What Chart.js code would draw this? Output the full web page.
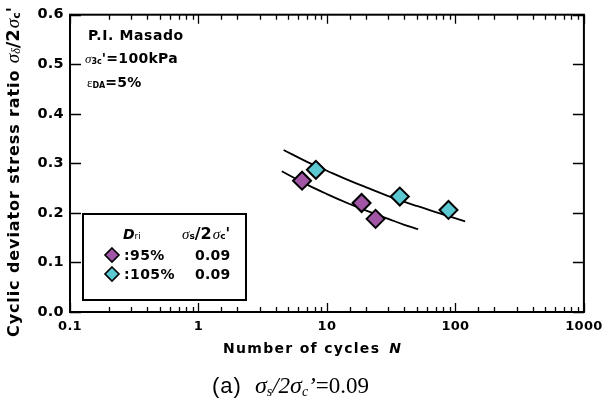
<!DOCTYPE html>
<html>
<head>
<meta charset="utf-8">
<script src="https://cdn.jsdelivr.net/npm/chart.js@4.4.1/dist/chart.umd.min.js"></script>
<style>
  html, body { margin: 0; padding: 0; background: #fff; }
</style>
</head>
<body>
<canvas id="chart" width="609" height="410"></canvas>
<script>
// measured points, Dri = 95%
const cycles95 = [6.4, 18.6, 23.9];
const ratio95 = [0.265, 0.220, 0.188];
// measured points, Dri = 105%
const cycles105 = [8.2, 36.9, 88.3];
const ratio105 = [0.287, 0.233, 0.206];

// fitted curves
const curveN95 = [4.45, 7, 10, 15, 20, 30, 40, 51.3];
const curveR95 = [0.284, 0.257, 0.238, 0.218, 0.205, 0.188, 0.176, 0.167];
const curveN105 = [4.6, 7, 10, 15, 20, 30, 50, 80, 119];
const curveR105 = [0.327, 0.303, 0.285, 0.265, 0.252, 0.234, 0.214, 0.197, 0.183];

const yTicks = [0, 0.1, 0.2, 0.3, 0.4, 0.5, 0.6];
const xDecades = [0.1, 1, 10, 100, 1000];

const PURPLE = '#a055a5';
const CYAN = '#5cc8d2';
const SANS = '"DejaVu Sans", Verdana, sans-serif';
const ARIAL = '"Liberation Sans", Arial, sans-serif';
const SERIF = '"Liberation Serif", "Times New Roman", serif';

function pts(xs, ys) {
  return xs.map((x, i) => ({ x: x, y: ys[i] }));
}

// draw a row of text pieces with different fonts
function runs(ctx, list, x, y) {
  let cx = x;
  list.forEach(r => {
    ctx.font = r.font;
    ctx.letterSpacing = (r.ls || 0) + 'px';
    ctx.fillText(r.t, cx, y + (r.dy || 0));
    cx += ctx.measureText(r.t).width + (r.gap || 0);
  });
  ctx.letterSpacing = '0px';
  return cx;
}

function isDecade(v) {
  const l = Math.log10(v);
  return Math.abs(l - Math.round(l)) < 1e-6;
}

const decorPlugin = {
  id: 'decor',
  beforeDraw(chart) {
    chart.ctx.letterSpacing = '0.3px';
  },
  afterDatasetsDraw(chart) {
    const ctx = chart.ctx;
    const a = chart.chartArea;
    const xs = chart.scales.x, ys = chart.scales.y;
    ctx.save();
    ctx.strokeStyle = '#000';
    ctx.lineWidth = 2;
    ctx.strokeRect(a.left, a.top, a.right - a.left, a.bottom - a.top);

    // inward ticks
    ctx.lineWidth = 1.3;
    ctx.beginPath();
    xs.ticks.forEach(t => {
      const px = Math.round(xs.getPixelForValue(t.value)) + 0.5;
      const len = isDecade(t.value) ? 9 : 5;
      ctx.moveTo(px, a.bottom); ctx.lineTo(px, a.bottom - len);
      ctx.moveTo(px, a.top); ctx.lineTo(px, a.top + len);
    });
    ys.ticks.forEach(t => {
      const py = Math.round(ys.getPixelForValue(t.value)) + 0.5;
      ctx.moveTo(a.left, py); ctx.lineTo(a.left + 11, py);
      ctx.moveTo(a.right, py); ctx.lineTo(a.right - 11, py);
    });
    ctx.stroke();

    ctx.fillStyle = '#000';
    ctx.textBaseline = 'alphabetic';
    ctx.textAlign = 'left';

    // condition text, top left
    runs(ctx, [{ t: 'P.I. Masado', font: 'bold 14px ' + SANS, ls: 0.6 }], 88, 40);
    runs(ctx, [
      { t: 'σ', font: 'italic 13px ' + SERIF },
      { t: '3c', font: 'bold 8px ' + SANS, dy: 1 },
      { t: '\'=100kPa', font: 'bold 14px ' + SANS, ls: 0.3 }
    ], 85, 63);
    runs(ctx, [
      { t: 'ε', font: '13px ' + SERIF },
      { t: 'DA', font: 'bold 8px ' + SANS, dy: 1 },
      { t: '=5%', font: 'bold 14px ' + SANS, ls: 0.3 }
    ], 87, 87);

    // legend box
    ctx.fillStyle = '#fff';
    ctx.fillRect(83, 214, 163, 86);
    ctx.lineWidth = 2;
    ctx.strokeRect(83, 214, 163, 86);
    ctx.fillStyle = '#000';
    runs(ctx, [
      { t: 'D', font: 'italic bold 14px ' + SANS },
      { t: 'ri', font: '9px ' + SANS }
    ], 123, 239);
    runs(ctx, [
      { t: 'σ', font: 'italic 15px ' + SERIF },
      { t: 's', font: 'bold 9px ' + SANS },
      { t: '/2', font: 'bold 16px ' + SANS, gap: 1 },
      { t: 'σ', font: 'italic 15px ' + SERIF },
      { t: 'c', font: 'bold 9px ' + SANS },
      { t: '\'', font: 'bold 15px ' + SANS }
    ], 182, 239);
    const rows = [
      { c: PURPLE, label: ':95%', val: '0.09', y: 255 },
      { c: CYAN, label: ':105%', val: '0.09', y: 274 }
    ];
    rows.forEach(r => {
      ctx.beginPath();
      ctx.moveTo(112, r.y - 7); ctx.lineTo(119, r.y); ctx.lineTo(112, r.y + 7); ctx.lineTo(105, r.y);
      ctx.closePath();
      ctx.fillStyle = r.c; ctx.fill();
      ctx.lineWidth = 1.6; ctx.strokeStyle = '#000'; ctx.stroke();
      ctx.fillStyle = '#000';
      runs(ctx, [{ t: r.label, font: 'bold 14px ' + SANS, ls: 0.4 }], 124, r.y + 5);
      runs(ctx, [{ t: r.val, font: 'bold 14px ' + SANS, ls: 0.2 }], 195, r.y + 5);
    });

    // x axis title
    runs(ctx, [
      { t: 'Number of cycles', font: 'bold 14px ' + SANS, ls: 1.3, gap: 9 },
      { t: 'N', font: 'italic bold 14px ' + SANS }
    ], 223, 353);

    // y axis title (rotated)
    ctx.save();
    ctx.translate(19, 337);
    ctx.rotate(-Math.PI / 2);
    runs(ctx, [
      { t: 'Cyclic deviator stress ratio ', font: 'bold 16px ' + SANS, ls: 0.9 },
      { t: 'σ', font: 'italic 19px ' + SERIF },
      { t: 'δ', font: 'italic 12px ' + SERIF, dy: 1 },
      { t: '/2', font: 'bold 18px ' + SANS, gap: 1 },
      { t: 'σ', font: 'italic 19px ' + SERIF },
      { t: 'c', font: 'bold 11px ' + SANS, dy: 1 },
      { t: '\'', font: 'bold 17px ' + SANS }
    ], 0, 0);
    ctx.restore();

    // caption
    runs(ctx, [
      { t: '(a)', font: '22px ' + ARIAL, ls: 1, gap: 13 },
      { t: 'σ', font: 'italic 24px ' + SERIF },
      { t: 's', font: 'italic 14px ' + SERIF, dy: 3 },
      { t: '/2', font: 'italic 23px ' + SERIF },
      { t: 'σ', font: 'italic 24px ' + SERIF },
      { t: 'c', font: 'italic 14px ' + SERIF, dy: 3 },
      { t: '\u2019', font: 'italic 23px ' + SERIF },
      { t: '=0.09', font: '23px ' + SERIF }
    ], 212, 393);
    ctx.restore();
  }
};

const ctx = document.getElementById('chart');
new Chart(ctx, {
  type: 'scatter',
  data: {
    datasets: [
      {
        label: 'fit 95%',
        data: pts(curveN95, curveR95),
        showLine: true,
        borderColor: '#000',
        borderWidth: 1.8,
        pointRadius: 0,
        tension: 0.4,
        order: 2
      },
      {
        label: 'fit 105%',
        data: pts(curveN105, curveR105),
        showLine: true,
        borderColor: '#000',
        borderWidth: 1.8,
        pointRadius: 0,
        tension: 0.4,
        order: 2
      },
      {
        label: ':95%',
        data: pts(cycles95, ratio95),
        pointStyle: 'rectRot',
        pointRadius: 9,
        backgroundColor: PURPLE,
        borderColor: '#000',
        borderWidth: 2,
        order: 1
      },
      {
        label: ':105%',
        data: pts(cycles105, ratio105),
        pointStyle: 'rectRot',
        pointRadius: 9,
        backgroundColor: CYAN,
        borderColor: '#000',
        borderWidth: 2,
        order: 1
      }
    ]
  },
  options: {
    responsive: false,
    animation: false,
    layout: { padding: { left: 0, right: 19, top: 14, bottom: 0 } },
    plugins: {
      legend: { display: false },
      tooltip: { enabled: false }
    },
    scales: {
      x: {
        type: 'logarithmic',
        min: 0.1,
        max: 1000,
        afterFit: s => { s.height = 98; },
        grid: { display: false, drawTicks: false },
        border: { display: false },
        ticks: {
          autoSkip: false,
          maxRotation: 0,
          padding: 7,
          color: '#000',
          font: { family: SANS, size: 13, weight: 'bold' },
          callback: v => xDecades.includes(v) ? String(v) : ''
        }
      },
      y: {
        min: 0,
        max: 0.6,
        afterFit: s => { s.width = 70; },
        afterBuildTicks: s => { s.ticks = yTicks.map(v => ({ value: v })); },
        grid: { display: false, drawTicks: false },
        border: { display: false },
        ticks: {
          padding: 6,
          color: '#000',
          font: { family: SANS, size: 14.5, weight: 'bold' },
          callback: v => v.toFixed(1)
        }
      }
    }
  },
  plugins: [decorPlugin]
});
</script>
</body>
</html>
